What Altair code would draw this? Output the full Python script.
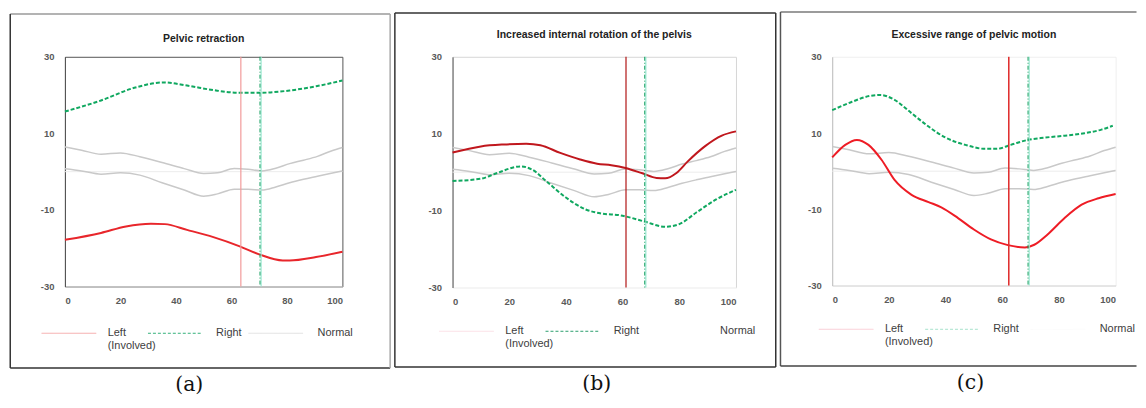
import altair as alt
import pandas as pd

SERIES = ["Left", "Right", "Normal"]
X_TICKS = [0, 20, 40, 60, 80, 100]
Y_TICKS = [-30, -20, -10, 0, 10, 20, 30]
TITLES = ["Pelvic retraction", "Increased internal rotation of the pelvis",
          "Excessive range of pelvic motion"]
PANEL_LABELS = ["(a)", "(b)", "(c)"]

# normal band (same in all panels)
NORM_X = [0, 6, 13, 20, 27, 35, 43, 50, 55, 61, 66, 71, 76, 81, 86, 91, 96, 100]
NORM_UP = [6.45, 5.6, 4.55, 4.9, 3.9, 2.4, 0.8, -0.5, -0.3, 0.8, 0.6, 0.2, 0.9, 2.1, 3.0, 4.0, 5.4, 6.3]
NORM_LO = [0.75, 0.2, -0.65, -0.3, -0.9, -2.9, -4.8, -6.4, -5.8, -4.6, -4.6, -4.8, -4.0, -2.9, -2.0, -1.2, -0.4, 0.2]

# (a) pelvic retraction
A_LX = [0, 13, 22, 31, 36, 44, 53.5, 63, 70, 78.5, 81, 90.5, 100]
A_LY = [-17.8, -16.0, -14.3, -13.6, -13.7, -15.2, -17.1, -19.5, -21.6, -23.2, -23.2, -22.3, -20.9]
A_RX = [0, 13, 25, 35.6, 44, 53.5, 63, 70, 81, 90.5, 100]
A_RY = [15.7, 18.6, 21.9, 23.3, 22.5, 21.3, 20.6, 20.6, 21.2, 22.3, 23.8]

# (b) increased internal rotation
B_LX = [0, 10, 18, 26, 31, 38, 45, 51, 56, 61, 67, 72, 75, 79, 83, 89, 95, 100]
B_LY = [5.1, 6.7, 7.2, 7.4, 7.0, 5.0, 3.3, 2.2, 1.8, 1.1, -0.3, -1.5, -1.6, -0.2, 2.8, 6.7, 9.5, 10.6]
B_RX = [0, 10, 15.5, 24, 28, 33, 40, 47, 53, 59, 61, 68, 75, 80, 86, 93, 100]
B_RY = [-2.3, -1.7, -0.3, 1.5, 0.7, -2.3, -6.6, -9.7, -10.8, -11.2, -11.5, -12.9, -14.2, -13.5, -10.5, -7.1, -4.6]

# (c) excessive range of motion
C_LX = [0, 4.6, 8.7, 12.8, 17.4, 22, 28, 34, 38.5, 44.4, 50, 56, 62, 68, 71.3, 76, 82, 88, 94, 100]
C_LY = [3.6, 6.9, 8.2, 6.9, 3.0, -2.3, -6.2, -8.1, -9.5, -12.3, -15.3, -17.9, -19.4, -20.0, -19.3, -16.6, -12.3, -8.8, -7.1, -6.0]
C_RX = [0, 7, 13, 17, 22, 28, 34, 40, 47, 54, 58, 63, 69, 75, 82, 89, 95, 99]
C_RY = [16.0, 18.2, 19.7, 20.0, 18.7, 15.2, 11.7, 8.8, 6.9, 5.85, 5.85, 6.9, 8.2, 8.8, 9.3, 9.95, 10.9, 11.9]

# toe-off events (% gait cycle)
LEFT_EVENT = [63.4, 61.2, 62.3]
RIGHT_EVENT = [70.3, 67.8, 69.1]

STYLES = [
    dict(w=279, h=231, left_col="#e8262b", event_left="#f29a9a", event_lw=1.2,
         leg_cols=["#f4a3a3", "#33b07a", "#e0e0e0"], plot_stroke="#555555",
         left_dom="#555555", bot_dom="#d9d9d9",
         frame=(-55, 327, -43, 313), fcols=("#9a9a9a", "#a8a8a8", "#333333", "#333333"),
         lab=(125, 330), legx=(-24, 83, 184), legy=250, toff=-31),
    dict(w=285, h=232, left_col="#c0171d", event_left="#b01515", event_lw=1.2,
         leg_cols=["#fbe0e6", "#2a9d6c", "#ffffff"], plot_stroke="#d6d6d6",
         left_dom="#555555", bot_dom="#ffffff",
         frame=(-58, 325, -44, 312), fcols=("#333333", "#333333", "#333333", "#333333"),
         lab=(145, 329), legx=(-14, 93, 199), legy=248, toff=-28),
    dict(w=285, h=230, left_col="#ee1c25", event_left="#e03030", event_lw=1.6,
         leg_cols=["#f9c9d2", "#a6e2cc", "#fbfbfb"], plot_stroke="#efefef",
         left_dom="#bdbdbd", bot_dom="#d4d4d4",
         frame=(-52, 306, -45, 311), fcols=("#7a7a7a", None, "#555555", "#444444"),
         lab=(139, 328), legx=(-14, 93, 199), legy=246, toff=-29),
]
LEG_OFFSETS = [11, 13, 14]
LEG_DASH = [[1, 0], [3, 2], [1, 0]]

norm_df = pd.DataFrame({
    "t": NORM_X + NORM_X,
    "v": NORM_UP + NORM_LO,
    "band": ["upper"] * len(NORM_X) + ["lower"] * len(NORM_X),
})

PANELS = [(A_LX, A_LY, A_RX, A_RY), (B_LX, B_LY, B_RX, B_RY), (C_LX, C_LY, C_RX, C_RY)]

LABEL_FONT = "Liberation Sans"
LEG_EXPR = "datum.label == 'Left' ? ['Left', '(Involved)'] : datum.label"


def make_panel(i):
    lx, ly, rx, ry = PANELS[i]
    st = STYLES[i]
    xs = alt.Scale(domain=[0, 100], nice=False)
    ys = alt.Scale(domain=[-30, 30], nice=False)
    xax = alt.Axis(values=X_TICKS, grid=False, ticks=False, domainColor=st["bot_dom"],
                   domainWidth=1, labelFont=LABEL_FONT, labelFontSize=9.5,
                   labelFontWeight="bold", labelColor="#5a5a5a", labelPadding=9,
                   labelOverlap=False, labelExpr="'' + datum.value", title=None)
    yax = alt.Axis(values=Y_TICKS, grid=False, ticks=False, domainColor=st["left_dom"],
                   domainWidth=1, labelFont=LABEL_FONT, labelFontSize=9.5,
                   labelFontWeight="bold", labelColor="#5a5a5a", labelPadding=11,
                   labelOverlap=False, labelExpr="'' + datum.value", title=None)
    X = alt.X("t:Q", scale=xs, axis=xax)
    Y = alt.Y("v:Q", scale=ys, axis=yax)

    one = alt.Data(values=[{}])

    zero = alt.Chart(one).mark_rule(color="#ececec", strokeWidth=1).encode(y=alt.datum(0))
    normal = alt.Chart(norm_df).mark_line(color="#c9c9c9", strokeWidth=1.5,
                                          interpolate="monotone").encode(
        x=X, y=Y, detail="band:N")
    left = alt.Chart(pd.DataFrame({"t": lx, "v": ly})).mark_line(
        color=st["left_col"], strokeWidth=2, interpolate="monotone").encode(x=X, y=Y)
    right = alt.Chart(pd.DataFrame({"t": rx, "v": ry})).mark_line(
        color="#10a860", strokeWidth=2, strokeDash=[4, 2], interpolate="monotone").encode(x=X, y=Y)
    ev_left = alt.Chart(one).mark_rule(color=st["event_left"], strokeWidth=st["event_lw"]).encode(
        x=alt.datum(LEFT_EVENT[i]))
    ev_right_a = alt.Chart(one).mark_rule(color="#9be8d2", strokeWidth=1.2).encode(
        x=alt.datum(RIGHT_EVENT[i] + 0.4))
    ev_right_b = alt.Chart(one).mark_rule(color="#14a060", strokeWidth=1, strokeDash=[4, 2, 1, 2]).encode(
        x=alt.datum(RIGHT_EVENT[i]))

    # one legend per series so each entry sits where the original puts it
    legs = []
    for k, name in enumerate(SERIES):
        lg = alt.Legend(
            title=None, orient="none", legendX=st["legx"][k], legendY=st["legy"],
            direction="horizontal", symbolType="stroke", symbolSize=3025,
            symbolStrokeWidth=1, labelFont=LABEL_FONT, labelFontSize=11,
            labelColor="#404040", labelOffset=LEG_OFFSETS[k], padding=0,
            labelExpr=LEG_EXPR, labelLimit=0,
        )
        df = pd.DataFrame({"s%d" % k: [name], "t": [0], "v": [0]})
        legs.append(alt.Chart(df).mark_line(strokeWidth=1).encode(
            x=X, y=Y,
            color=alt.Color("s%d:N" % k, scale=alt.Scale(domain=[name], range=[st["leg_cols"][k]]),
                            legend=lg),
            strokeDash=alt.StrokeDash("s%d:N" % k, scale=alt.Scale(domain=[name], range=[LEG_DASH[k]]),
                                      legend=lg),
        ))

    # panel frame (top, left, bottom, right)
    fx0, fx1, fy0, fy1 = st["frame"]
    ctop, cright, cleft, cbot = st["fcols"]
    sides = [
        alt.Chart(one).mark_rule(color=ctop, strokeWidth=1.5).encode(
            x=alt.value(fx0), x2=alt.value(fx1), y=alt.value(fy0)),
        alt.Chart(one).mark_rule(color=cleft, strokeWidth=1.5).encode(
            x=alt.value(fx0), y=alt.value(fy0), y2=alt.value(fy1)),
        alt.Chart(one).mark_rule(color=cbot, strokeWidth=1.5).encode(
            x=alt.value(fx0), x2=alt.value(fx1), y=alt.value(fy1)),
    ]
    if cright:
        sides.append(alt.Chart(one).mark_rule(color=cright, strokeWidth=1.5).encode(
            x=alt.value(fx1), y=alt.value(fy0), y2=alt.value(fy1)))
    lab = alt.Chart(one).mark_text(text=PANEL_LABELS[i], font="DejaVu Serif", fontSize=20.5,
                                   color="#111111", baseline="middle").encode(
        x=alt.value(st["lab"][0]), y=alt.value(st["lab"][1]))

    return alt.layer(zero, normal, left, right, ev_left, ev_right_a, ev_right_b, *legs,
                     *sides, lab).resolve_scale(
        color="independent", strokeDash="independent").properties(
        width=st["w"], height=st["h"],
        title=alt.Title(TITLES[i], fontSize=10.5, font=LABEL_FONT, fontWeight="bold",
                        color="#222222", offset=st["toff"], anchor="middle", frame="group"),
        view=alt.ViewBackground(stroke=st["plot_stroke"], strokeWidth=1),
    )


chart = alt.hconcat(make_panel(0), make_panel(1), make_panel(2), spacing=0.75).properties(
    padding={"left": 0.25, "top": 1, "right": 0, "bottom": -2.5},
    background="white",
).resolve_scale(color="independent", strokeDash="independent").configure_view(
    stroke="#555555")

chart.save("out.html", embed_options={"renderer": "svg", "actions": False})
